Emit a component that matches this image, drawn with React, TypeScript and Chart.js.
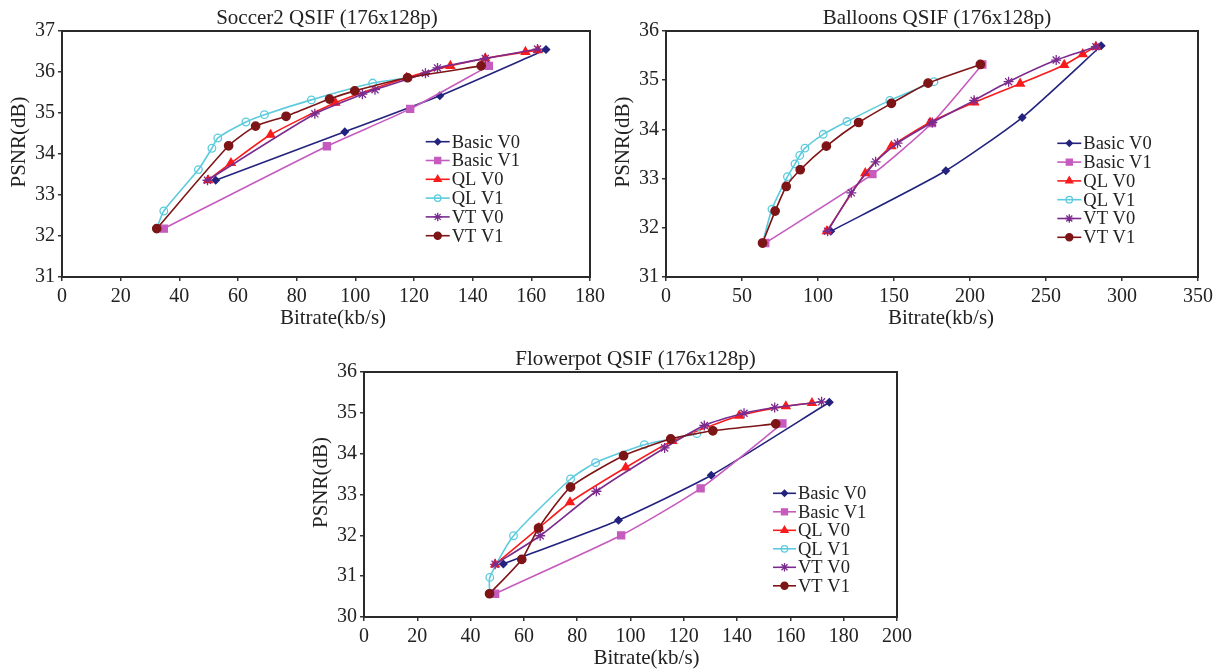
import React, { useEffect, useRef } from 'react';
import { Chart, registerables } from 'chart.js';
import { drawPoint } from 'chart.js/helpers';

Chart.register(...registerables);

const FONT = '"Liberation Serif", "Times New Roman", serif';

const SERIES_NAMES = ['Basic V0', 'Basic V1', 'QL V0', 'QL V1', 'VT V0', 'VT V1'];

// ---------- Soccer2 QSIF ----------
const soccerBasicV0: [number, number][] = [[52.4, 33.36], [96.4, 34.54], [128.8, 35.42], [165.0, 36.55]];
const soccerBasicV1: [number, number][] = [[34.7, 32.18], [90.3, 34.19], [118.7, 35.10], [145.5, 36.15]];
const soccerQLV0: [number, number][] = [[49.8, 33.36], [57.6, 33.78], [71.1, 34.47], [93.2, 35.25], [117.5, 35.86], [132.4, 36.15], [144.3, 36.33], [158.0, 36.49], [162.2, 36.53]];
const soccerQLV1: [number, number][] = [[32.3, 32.18], [34.7, 32.61], [46.5, 33.62], [51.1, 34.14], [53.1, 34.39], [62.7, 34.78], [69.0, 34.96], [85.0, 35.32], [105.9, 35.73], [117.8, 35.86]];
const soccerVTV0: [number, number][] = [[49.6, 33.36], [86.2, 34.98], [102.4, 35.46], [106.7, 35.57], [123.9, 35.97], [128.0, 36.10], [144.3, 36.33], [162.1, 36.56]];
const soccerVTV1: [number, number][] = [[32.3, 32.18], [56.8, 34.20], [66.0, 34.68], [76.4, 34.92], [91.2, 35.34], [99.8, 35.54], [117.8, 35.86], [142.9, 36.15]];

// ---------- Balloons QSIF ----------
const balloonsBasicV0: [number, number][] = [[108.4, 31.93], [184.1, 33.16], [234.3, 34.24], [286.3, 35.70]];
const balloonsBasicV1: [number, number][] = [[65.3, 31.69], [135.8, 33.09], [175.0, 34.13], [208.1, 35.32]];
const balloonsQLV0: [number, number][] = [[105.8, 31.93], [131.1, 33.11], [148.3, 33.66], [173.7, 34.14], [202.9, 34.55], [233.0, 34.93], [262.0, 35.31], [274.2, 35.53], [282.8, 35.68]];
const balloonsQLV1: [number, number][] = [[63.5, 31.69], [69.7, 32.38], [79.9, 33.04], [84.9, 33.30], [88.0, 33.47], [91.4, 33.62], [103.4, 33.90], [119.1, 34.16], [147.3, 34.59], [176.3, 34.97]];
const balloonsVTV0: [number, number][] = [[106.3, 31.93], [121.9, 32.71], [137.9, 33.34], [152.3, 33.72], [175.2, 34.14], [202.7, 34.59], [225.4, 34.97], [256.7, 35.41], [282.8, 35.68]];
const balloonsVTV1: [number, number][] = [[63.5, 31.69], [71.8, 32.34], [79.1, 32.84], [88.3, 33.18], [105.5, 33.66], [126.7, 34.14], [148.3, 34.53], [172.4, 34.94], [206.8, 35.32]];

// ---------- Flowerpot QSIF ----------
const flowerBasicV0: [number, number][] = [[52.3, 31.30], [95.5, 32.37], [130.3, 33.47], [174.6, 35.26]];
const flowerBasicV1: [number, number][] = [[49.2, 30.57], [96.5, 32.00], [126.3, 33.15], [157.0, 34.74]];
const flowerQLV0: [number, number][] = [[49.2, 31.29], [65.6, 32.18], [77.3, 32.81], [98.2, 33.66], [115.7, 34.31], [140.8, 34.93], [158.3, 35.16], [168.1, 35.24]];
const flowerQLV1: [number, number][] = [[47.2, 30.57], [47.2, 30.97], [56.1, 31.99], [77.5, 33.38], [86.9, 33.78], [105.2, 34.22], [124.9, 34.49]];
const flowerVTV0: [number, number][] = [[49.2, 31.29], [66.1, 31.99], [87.2, 33.08], [112.8, 34.14], [127.7, 34.69], [142.6, 34.99], [154.1, 35.13], [171.7, 35.27]];
const flowerVTV1: [number, number][] = [[47.1, 30.57], [59.2, 31.41], [65.5, 32.18], [77.5, 33.18], [97.4, 33.95], [115.1, 34.36], [130.9, 34.56], [154.5, 34.73]];

const STYLES = [
  { color: '#23237e', pointStyle: 'rectRot', radius: 3.6, filled: true },
  { color: '#c65bbf', pointStyle: 'rect', radius: 5, filled: true },
  { color: '#f81c1c', pointStyle: 'triangle', radius: 4.8, filled: true },
  { color: '#5ccbdd', pointStyle: 'circle', radius: 3.8, filled: false },
  { color: '#7b2b8e', pointStyle: 'star', radius: 5, filled: false },
  { color: '#7d1416', pointStyle: 'circle', radius: 4.2, filled: true },
];

const PANELS = [
  {
    left: 0, top: 0, w: 612, h: 335,
    padTop: 31, padRight: 22, yWidth: 62, xHeight: 58,
    title: 'Soccer2 QSIF (176x128p)', titleDx: 1, xTitleDx: 7,
    xMin: 0, xMax: 180, xStep: 20, yMin: 31, yMax: 37,
    series: [soccerBasicV0, soccerBasicV1, soccerQLV0, soccerQLV1, soccerVTV0, soccerVTV1],
    legend: { dx: 363.7, dy: 110.7, rowH: 18.8, lineW: 24 },
  },
  {
    left: 600, top: 0, w: 624, h: 335,
    padTop: 31, padRight: 26, yWidth: 66, xHeight: 58,
    title: 'Balloons QSIF (176x128p)', titleDx: 5, xTitleDx: 9,
    xMin: 0, xMax: 350, xStep: 50, yMin: 31, yMax: 36,
    series: [balloonsBasicV0, balloonsBasicV1, balloonsQLV0, balloonsQLV1, balloonsVTV0, balloonsVTV1],
    legend: { dx: 391.3, dy: 112.3, rowH: 18.8, lineW: 24 },
  },
  {
    left: 300, top: 340, w: 624, h: 329,
    padTop: 32, padRight: 27, yWidth: 64, xHeight: 52,
    title: 'Flowerpot QSIF (176x128p)', titleDx: 5, xTitleDx: 16,
    xMin: 0, xMax: 200, xStep: 20, yMin: 30, yMax: 36,
    series: [flowerBasicV0, flowerBasicV1, flowerQLV0, flowerQLV1, flowerVTV0, flowerVTV1],
    legend: { dx: 409, dy: 121.3, rowH: 18.5, lineW: 23 },
  },
];

const framePlugin = {
  id: 'frame',
  beforeDatasetsDraw(chart: any) {
    const { ctx, chartArea: a } = chart;
    ctx.save();
    ctx.strokeStyle = '#2a2a2a';
    ctx.lineWidth = 2;
    ctx.strokeRect(a.left, a.top, a.right - a.left, a.bottom - a.top);
    ctx.restore();
  },
};

const textPlugin = {
  id: 'texts',
  afterDraw(chart: any, _args: any, o: any) {
    const { ctx, chartArea: a } = chart;
    const cx = (a.left + a.right) / 2;
    ctx.save();
    ctx.fillStyle = '#222';
    ctx.textAlign = 'center';
    ctx.textBaseline = 'middle';
    ctx.font = `21px ${FONT}`;
    ctx.fillText(o.title, cx + o.titleDx, a.top - 13);
    ctx.fillText(o.xTitle, cx + o.xTitleDx, a.bottom + 41);
    ctx.translate(a.left - 43, (a.top + a.bottom) / 2 - 12);
    ctx.rotate(-Math.PI / 2);
    ctx.fillText(o.yTitle, 0, 0);
    ctx.restore();
  },
};

const legendPlugin = {
  id: 'insideLegend',
  afterDatasetsDraw(chart: any, _args: any, o: any) {
    const { ctx, chartArea: a } = chart;
    const x0 = a.left + o.dx;
    const y0 = a.top + o.dy;
    chart.data.datasets.forEach((ds: any, i: number) => {
      const y = y0 + i * o.rowH;
      ctx.save();
      ctx.strokeStyle = ds.borderColor;
      ctx.lineWidth = ds.borderWidth;
      ctx.beginPath();
      ctx.moveTo(x0, y);
      ctx.lineTo(x0 + o.lineW, y);
      ctx.stroke();
      ctx.fillStyle = ds.pointBackgroundColor;
      ctx.strokeStyle = ds.pointBorderColor;
      ctx.lineWidth = ds.pointBorderWidth;
      drawPoint(ctx, { pointStyle: ds.pointStyle, rotation: 0, borderWidth: ds.pointBorderWidth, radius: ds.pointRadius * 0.85 } as any, x0 + o.lineW / 2, y);
      ctx.fillStyle = '#222';
      ctx.font = `18.5px ${FONT}`;
      ctx.textAlign = 'left';
      ctx.textBaseline = 'middle';
      ctx.fillText(ds.label, x0 + o.lineW + 2, y + 1);
      ctx.restore();
    });
  },
};

function Panel({ p }: { p: any }) {
  const ref = useRef<HTMLCanvasElement>(null);
  useEffect(() => {
    const datasets = p.series.map((pts: [number, number][], i: number) => {
      const s = STYLES[i];
      return {
        label: SERIES_NAMES[i],
        data: pts.map(([x, y]) => ({ x, y })),
        showLine: true,
        borderColor: s.color,
        borderWidth: 1.6,
        tension: 0.2,
        pointStyle: s.pointStyle,
        pointRadius: s.radius,
        pointBorderColor: s.color,
        pointBackgroundColor: s.filled ? s.color : 'rgba(0,0,0,0)',
        pointBorderWidth: 1.3,
        order: 5 - i,
      };
    });
    const tickFont = { family: FONT, size: 20 };
    const chart = new Chart(ref.current as HTMLCanvasElement, {
      type: 'scatter',
      data: { datasets },
      options: {
        responsive: false,
        maintainAspectRatio: false,
        animation: false,
        layout: { padding: { top: p.padTop, right: p.padRight, left: 0, bottom: 0 } },
        plugins: {
          legend: { display: false },
          tooltip: { enabled: false },
          title: { display: false },
          texts: { title: p.title, titleDx: p.titleDx, xTitle: 'Bitrate(kb/s)', xTitleDx: p.xTitleDx, yTitle: 'PSNR(dB)' },
          insideLegend: p.legend,
        } as any,
        scales: {
          x: {
            type: 'linear',
            min: p.xMin,
            max: p.xMax,
            afterFit: (s: any) => { s.height = p.xHeight; },
            ticks: { stepSize: p.xStep, font: tickFont, color: '#222', padding: 4, maxRotation: 0, autoSkip: false },
            grid: { drawOnChartArea: false, drawTicks: true, tickLength: 4, color: '#333', lineWidth: 1.5 },
            border: { display: false },
          },
          y: {
            type: 'linear',
            min: p.yMin,
            max: p.yMax,
            afterFit: (s: any) => { s.width = p.yWidth; },
            ticks: { stepSize: 1, font: tickFont, color: '#222', padding: 3, autoSkip: false },
            grid: { drawOnChartArea: false, drawTicks: true, tickLength: 4, color: '#333', lineWidth: 1.5 },
            border: { display: false },
          },
        },
      },
      plugins: [framePlugin, textPlugin, legendPlugin],
    } as any);
    return () => chart.destroy();
  }, []);
  return (
    <canvas
      ref={ref}
      width={p.w}
      height={p.h}
      style={{ position: 'absolute', left: p.left, top: p.top, width: p.w, height: p.h }}
    />
  );
}

export default function App() {
  return (
    <div style={{ position: 'absolute', left: 0, top: 0, width: 1224, height: 669, background: '#fff' }}>
      {PANELS.map((p, i) => (
        <Panel key={i} p={p} />
      ))}
    </div>
  );
}
